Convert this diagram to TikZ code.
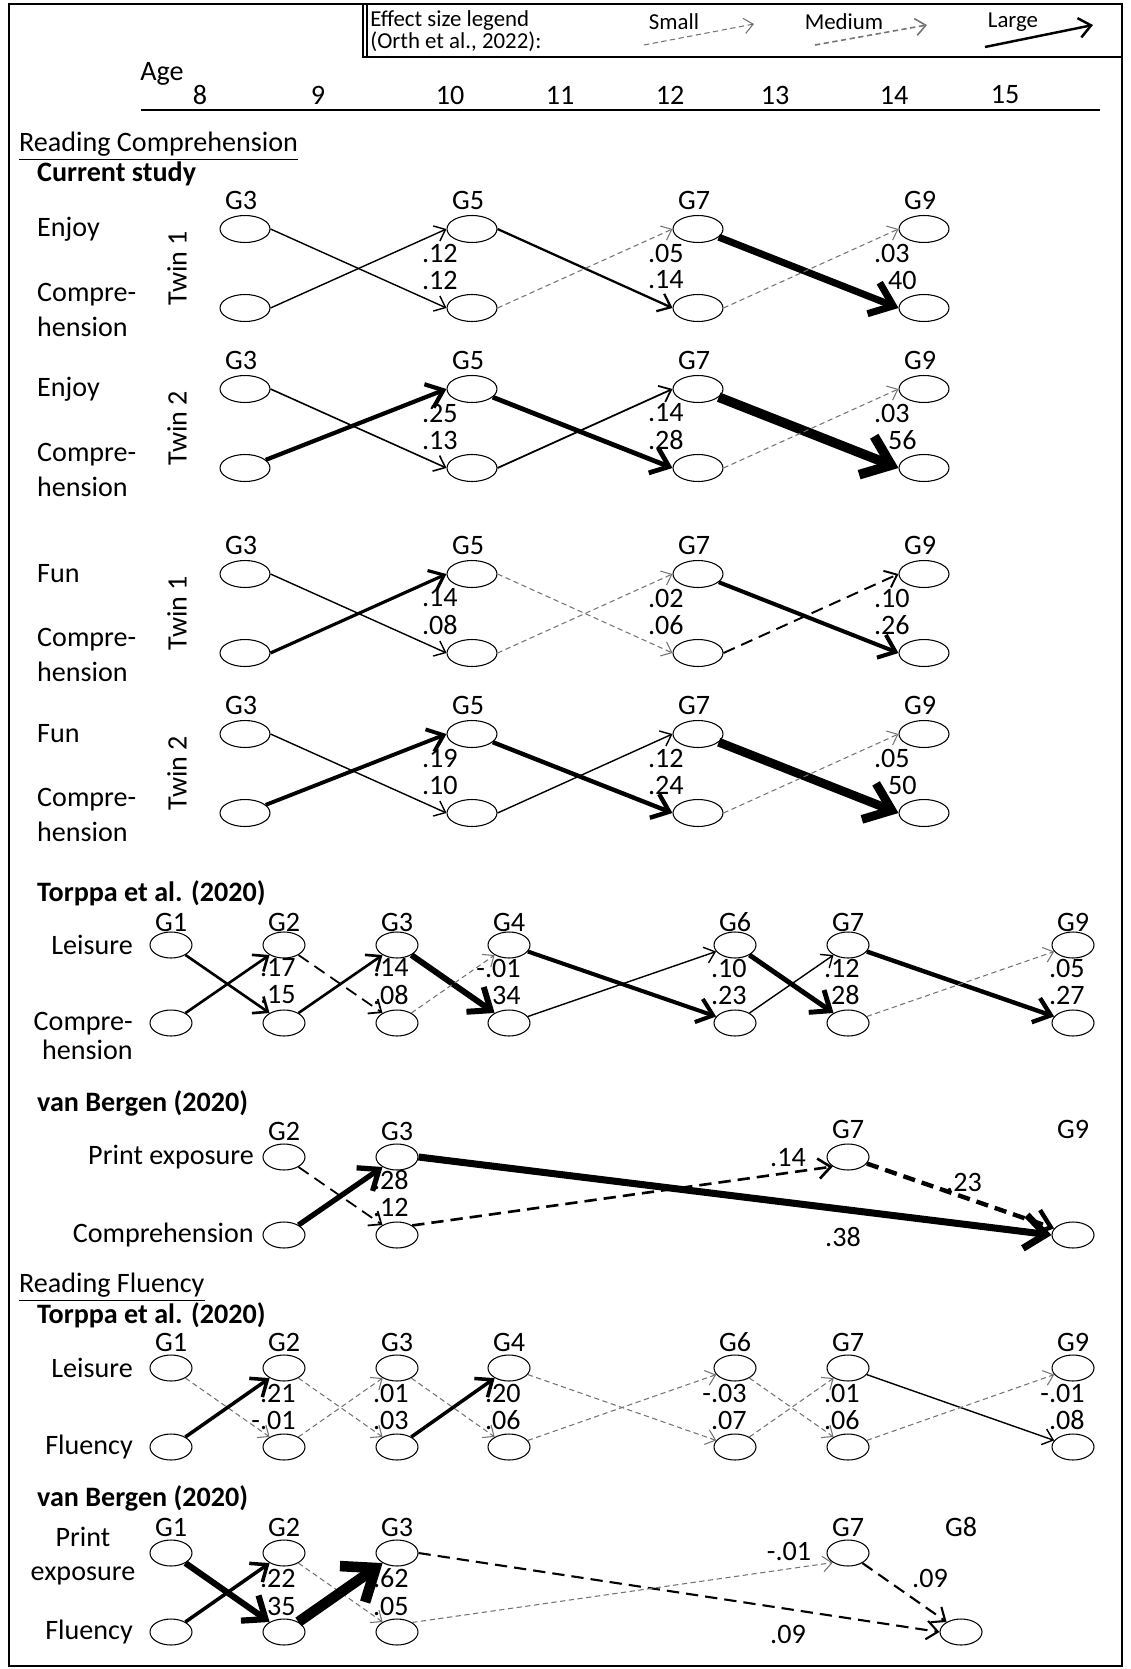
\documentclass[tikz,border=0pt]{standalone}
\usepackage{fontspec}
\setmainfont{Carlito}
\usetikzlibrary{arrows.meta,shapes.geometric}

\begin{document}
\begin{tikzpicture}[x=0.02cm, y=-0.02cm,
  font=\fontsize{16}{19.5}\selectfont,
  var/.style={draw, ellipse, line width=0.6pt, inner sep=0pt, minimum width=1cm, minimum height=0.54cm},
  svar/.style={var, minimum width=0.84cm, minimum height=0.52cm},
  eff/.style={line width=#1pt, -{Straight Barb[length=4pt 2, width=7pt 3]}},
  ns/.style={eff=0.6, draw=black!55, dash pattern=on 3pt off 2pt},
  nsb/.style={dash pattern=on 7pt off 4pt},
  coef/.style={anchor=east, inner sep=0pt},
  head/.style={anchor=west, font=\fontsize{16}{19.5}\selectfont\bfseries}]

\useasboundingbox (0,0) rectangle (1131,1669);

% frame and legend box
\draw[line width=0.9pt] (9,4) rectangle (1122,1666);
\draw[line width=0.9pt] (363,4) -- (363,57) -- (1122,57);
\draw[line width=0.6pt] (367,4) -- (367,57);
\node[anchor=north west, align=left, inner sep=0pt, font=\fontsize{13}{11.5}\selectfont] (leg) at (370,10) {Effect size legend\\(Orth et al., 2022):};
\node[font=\fontsize{13}{14}\selectfont] (small) at (674,22) {Small};
\node[font=\fontsize{13}{14}\selectfont] (medium) at (844,22) {Medium};
\node[font=\fontsize{13}{14}\selectfont] (large) at (1013,22) {Large};
\coordinate (s0) at (644,45); \coordinate (s1) at (754,24);
\coordinate (m0) at (815,45); \coordinate (m1) at (927,25);
\coordinate (l0) at (985,47); \coordinate (l1) at (1093,25);
\draw[ns] (s0) -- (s1);
\draw[ns, line width=0.9pt] (m0) -- (m1);
\draw[eff=1.4] (l0) -- (l1);

% age axis
\node (age) at (162,74) {Age};
\foreach \a/\x in {8/200, 9/318, 10/450, 11/560, 12/670, 13/775, 14/894, 15/1005}
  \node (a\a) at (\x,95) {\a};
\coordinate (ax0) at (141,110); \coordinate (ax1) at (1100,110);
\draw[line width=0.9pt] (ax0) -- (ax1);

% reading comprehension: current study
\node[anchor=west] (rc) at (13,146) {\underline{Reading Comprehension}};
\node[head] (cs) at (31,174) {Current study};
\foreach \p/\b in {1/200, 2/360, 3/545, 4/705}
  \foreach \g/\x in {3/245, 5/472, 7/698, 9/924}{
    \node (cs\p g\g) at (\x-4,\b) {G\g};
    \node[var] (cs\p t\g) at (\x,\b+29) {};
    \node[var] (cs\p b\g) at (\x,\b+108) {};
  }

\node[anchor=west] (en1) at (31,229) {Enjoy};
\node[anchor=west, align=left] (co1) at (31,310) {Compre-\\hension};
\node[rotate=90] (tw1) at (177,268) {Twin 1};
\draw[eff=0.8] (cs1t3.east) -- (cs1b5.west);
\draw[eff=0.8] (cs1b3.east) -- (cs1t5.west);
\draw[eff=1.3] (cs1t5.east) -- (cs1b7.west);
\draw[ns] (cs1b5.east) -- (cs1t7.west);
\draw[eff=4] (cs1t7) -- (cs1b9.west);
\draw[ns] (cs1b7.east) -- (cs1t9.west);
\node[coef] (k1a) at (458,253) {.12};  \node[coef] (k1b) at (458,280) {.12};
\node[coef] (k1c) at (684,253) {.05};  \node[coef] (k1d) at (684,280) {.14};
\node[coef] (k1e) at (910,253) {.03};  \node[coef] (k1f) at (917,280) {.40};

\node[anchor=west] (en2) at (31,389) {Enjoy};
\node[anchor=west, align=left] (co2) at (31,470) {Compre-\\hension};
\node[rotate=90] (tw2) at (177,428) {Twin 2};
\draw[eff=0.9] (cs2t3.east) -- (cs2b5.west);
\draw[eff=2.4] (cs2b3) -- (cs2t5.west);
\draw[eff=2.7] (cs2t5) -- (cs2b7.west);
\draw[eff=1] (cs2b5.east) -- (cs2t7.west);
\draw[eff=5.5] (cs2t7) -- (cs2b9.west);
\draw[ns] (cs2b7.east) -- (cs2t9.west);
\node[coef] (k2a) at (458,413) {.25};  \node[coef] (k2b) at (458,440) {.13};
\node[coef] (k2c) at (684,413) {.14};  \node[coef] (k2d) at (684,440) {.28};
\node[coef] (k2e) at (910,413) {.03};  \node[coef] (k2f) at (917,440) {.56};

\node[anchor=west] (fu3) at (31,574) {Fun};
\node[anchor=west, align=left] (co3) at (31,655) {Compre-\\hension};
\node[rotate=90] (tw3) at (177,613) {Twin 1};
\draw[eff=0.8] (cs3t3.east) -- (cs3b5.west);
\draw[eff=1.8] (cs3b3.east) -- (cs3t5.west);
\draw[ns] (cs3t5.east) -- (cs3b7.west);
\draw[ns] (cs3b5.east) -- (cs3t7.west);
\draw[eff=2.3] (cs3t7) -- (cs3b9.west);
\draw[eff=1.1, nsb] (cs3b7.east) -- (cs3t9.west);
\node[coef] (k3a) at (458,598) {.14};  \node[coef] (k3b) at (458,625) {.08};
\node[coef] (k3c) at (684,598) {.02};  \node[coef] (k3d) at (684,625) {.06};
\node[coef] (k3e) at (910,598) {.10};  \node[coef] (k3f) at (910,625) {.26};

\node[anchor=west] (fu4) at (31,734) {Fun};
\node[anchor=west, align=left] (co4) at (31,815) {Compre-\\hension};
\node[rotate=90] (tw4) at (177,773) {Twin 2};
\draw[eff=0.8] (cs4t3.east) -- (cs4b5.west);
\draw[eff=2.2] (cs4b3) -- (cs4t5.west);
\draw[eff=2.5] (cs4t5) -- (cs4b7.west);
\draw[eff=0.8] (cs4b5.east) -- (cs4t7.west);
\draw[eff=5] (cs4t7) -- (cs4b9.west);
\draw[ns] (cs4b7.east) -- (cs4t9.west);
\node[coef] (k4a) at (458,758) {.19};  \node[coef] (k4b) at (458,785) {.10};
\node[coef] (k4c) at (684,758) {.12};  \node[coef] (k4d) at (684,785) {.24};
\node[coef] (k4e) at (910,758) {.05};  \node[coef] (k4f) at (917,785) {.50};

% Torppa et al., comprehension
\node[head] (tp) at (31,893) {Torppa et al. (2020)};
\foreach \g/\x in {1/171, 2/284, 3/397, 4/509, 6/735, 7/848, 9/1073}{
  \node (tc\g) at (\x,922) {G\g};
  \node[svar] (tt\g) at (\x,945) {};
  \node[svar] (tb\g) at (\x,1023) {};
}
\node[anchor=east] (le1) at (139,945) {Leisure};
\node[anchor=east, align=right, font=\fontsize{16}{16}\selectfont] (co5) at (139,1036) {Compre-\\hension};
\draw[eff=1.5] (tt1) -- (tb2);
\draw[eff=1.5] (tb1) -- (tt2);
\draw[eff=1, nsb] (tt2) -- (tb3);
\draw[eff=1.5] (tb2) -- (tt3);
\draw[eff=3.4] (tt3) -- (tb4);
\draw[ns] (tb3) -- (tt4);
\draw[eff=2.3] (tt4) -- (tb6);
\draw[eff=0.8] (tb4) -- (tt6);
\draw[eff=2.8] (tt6) -- (tb7);
\draw[eff=0.8] (tb6) -- (tt7);
\draw[eff=2.5] (tt7) -- (tb9);
\draw[ns] (tb7) -- (tt9);
\node[coef] (k5a) at (296,968) {.17};   \node[coef] (k5b) at (296,995) {.15};
\node[coef] (k5c) at (409,968) {.14};   \node[coef] (k5d) at (409,995) {.08};
\node[coef] (k5e) at (521,968) {-.01};  \node[coef] (k5f) at (521,995) {.34};
\node[coef] (k5g) at (747,968) {.10};   \node[coef] (k5h) at (747,995) {.23};
\node[coef] (k5i) at (860,968) {.12};   \node[coef] (k5j) at (860,995) {.28};
\node[coef] (k5k) at (1085,968) {.05};  \node[coef] (k5l) at (1085,995) {.27};

% van Bergen, comprehension
\node[head] (vb) at (31,1103) {van Bergen (2020)};
\node (vc2) at (284,1131) {G2};
\node (vc3) at (397,1131) {G3};
\node (vc7) at (848,1129) {G7};
\node (vc9) at (1073,1129) {G9};
\node[svar] (vt2) at (284,1157) {};
\node[svar] (vt3) at (397,1157) {};
\node[svar] (vt7) at (848,1157) {};
\node[svar] (vb2) at (284,1235) {};
\node[svar] (vb3) at (397,1235) {};
\node[svar] (vb9) at (1073,1235) {};
\node[anchor=east] (pe1) at (260,1157) {Print exposure};
\node[anchor=east] (co6) at (260,1235) {Comprehension};
\draw[eff=1, nsb] (vt2) -- (vb3);
\draw[eff=3] (vb2) -- (vt3);
\draw[eff=4] (vt3.east) -- (vb9.west);
\draw[eff=1.5, nsb] (vb3.north east) -- (vt7.south west);
\draw[eff=2.5, nsb] (vt7) -- (vb9);
\node[coef] (k6a) at (409,1180) {.28};  \node[coef] (k6b) at (409,1207) {.12};
\node (k6c) at (788,1158) {.14};
\node (k6d) at (964,1182) {.23};
\node (k6e) at (843,1237) {.38};

% reading fluency: Torppa et al.
\node[anchor=west] (rf) at (13,1287) {\underline{Reading Fluency}};
\node[head] (tp2) at (31,1315) {Torppa et al. (2020)};
\foreach \g/\x in {1/171, 2/284, 3/397, 4/509, 6/735, 7/848, 9/1073}{
  \node (fc\g) at (\x,1342) {G\g};
  \node[svar] (ft\g) at (\x,1368) {};
  \node[svar] (fb\g) at (\x,1447) {};
}
\node[anchor=east] (le2) at (139,1368) {Leisure};
\node[anchor=east] (fl1) at (139,1447) {Fluency};
\draw[ns] (ft1) -- (fb2);
\draw[eff=2] (fb1) -- (ft2);
\draw[ns] (ft2) -- (fb3);
\draw[ns] (fb2) -- (ft3);
\draw[ns] (ft3) -- (fb4);
\draw[eff=2] (fb3) -- (ft4);
\draw[ns] (ft4) -- (fb6);
\draw[ns] (fb4) -- (ft6);
\draw[ns] (ft6) -- (fb7);
\draw[ns] (fb6) -- (ft7);
\draw[eff=0.8] (ft7) -- (fb9);
\draw[ns] (fb7) -- (ft9);
\node[coef] (k7a) at (296,1393) {.21};   \node[coef] (k7b) at (296,1420) {-.01};
\node[coef] (k7c) at (409,1393) {.01};   \node[coef] (k7d) at (409,1420) {.03};
\node[coef] (k7e) at (521,1393) {.20};   \node[coef] (k7f) at (521,1420) {.06};
\node[coef] (k7g) at (747,1393) {-.03};  \node[coef] (k7h) at (747,1420) {.07};
\node[coef] (k7i) at (860,1393) {.01};   \node[coef] (k7j) at (860,1420) {.06};
\node[coef] (k7k) at (1085,1393) {-.01}; \node[coef] (k7l) at (1085,1420) {.08};

% van Bergen, fluency
\node[head] (vb2h) at (31,1498) {van Bergen (2020)};
\foreach \g/\x in {1/171, 2/284, 3/397, 7/848, 8/961}
  \node (gc\g) at (\x,1527) {G\g};
\node[svar] (gt1) at (171,1553) {};
\node[svar] (gt2) at (284,1553) {};
\node[svar] (gt3) at (397,1553) {};
\node[svar] (gt7) at (848,1553) {};
\node[svar] (gb1) at (171,1632) {};
\node[svar] (gb2) at (284,1632) {};
\node[svar] (gb3) at (397,1632) {};
\node[svar] (gb8) at (961,1632) {};
\node[align=center] (pe2) at (83,1556) {Print\\exposure};
\node[anchor=east] (fl2) at (139,1632) {Fluency};
\draw[eff=3.5] (gt1) -- (gb2);
\draw[eff=2] (gb1) -- (gt2);
\draw[ns] (gt2) -- (gb3);
\draw[eff=6] (gb2) -- (gt3);
\draw[eff=1.2, nsb] (gt3.east) -- (gb8.west);
\draw[ns] (gb3.north east) -- (gt7.south west);
\draw[eff=1.2, nsb] (gt7) -- (gb8);
\node[coef] (k8a) at (296,1578) {.22};  \node[coef] (k8b) at (296,1606) {.35};
\node[coef] (k8c) at (409,1578) {.62};  \node[coef] (k8d) at (409,1606) {.05};
\node (k8e) at (789,1551) {-.01};
\node (k8f) at (930,1578) {.09};
\node (k8g) at (788,1634) {.09};
\end{tikzpicture}
\end{document}
